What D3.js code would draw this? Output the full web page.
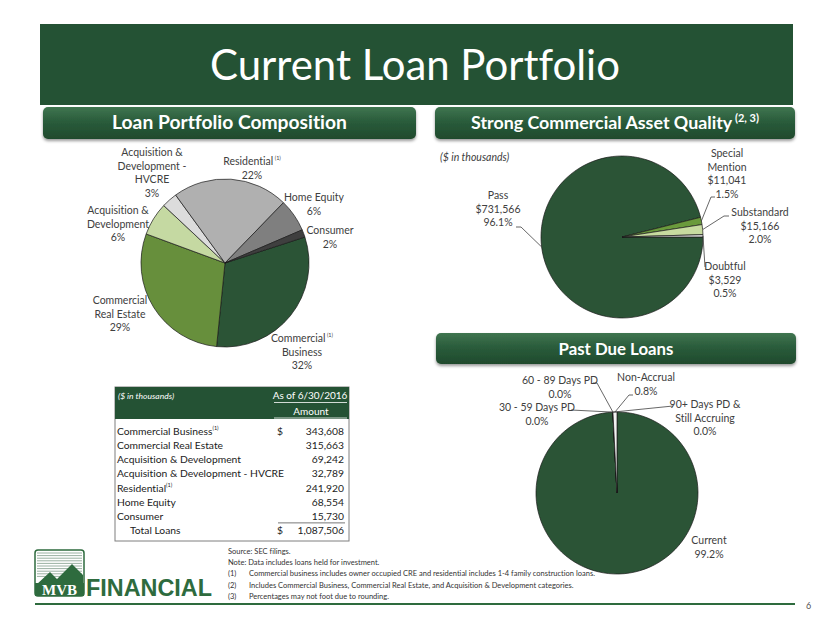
<!DOCTYPE html>
<html>
<head>
<meta charset="utf-8">
<script src="https://cdn.jsdelivr.net/npm/d3@7/dist/d3.min.js"></script>
<style>
  body { margin: 0; background: #fff; }
  svg { display: block; font-family: Lato, "Open Sans", sans-serif; font-variant-ligatures: none; }
</style>
</head>
<body>
<div id="chart"></div>
<script>
// loan portfolio composition ($ in thousands, as of 6/30/2016)
var loanCats = ["Commercial Business", "Commercial Real Estate", "Acquisition & Development",
  "Acquisition & Development - HVCRE", "Residential", "Home Equity", "Consumer"];
var loanVals = [343608, 315663, 69242, 32789, 241920, 68554, 15730];
var loanPcts = ["32%", "29%", "6%", "3%", "22%", "6%", "2%"];
var loanNotes = ["(1)", "", "", "", "(1)", "", ""];
var loanTotal = 1087506;

// commercial asset quality ($ in thousands)
var qualCats = ["Pass", "Special Mention", "Substandard", "Doubtful"];
var qualVals = [731566, 11041, 15166, 3529];
var qualPcts = ["96.1%", "1.5%", "2.0%", "0.5%"];

// past due loans (% of total)
var dueCats = ["Current", "30 - 59 Days PD", "60 - 89 Days PD", "90+ Days PD & Still Accruing", "Non-Accrual"];
var duePcts = [99.2, 0.0, 0.0, 0.0, 0.8];

var footnotes = [
  ["", "Source: SEC filings."],
  ["", "Note: Data includes loans held for investment."],
  ["(1)", "Commercial business includes owner occupied CRE and residential includes 1-4 family construction loans."],
  ["(2)", "Includes Commercial Business, Commercial Real Estate, and Acquisition & Development categories."],
  ["(3)", "Percentages may not foot due to rounding."]
];

var width = 830, height = 623;
var txt = "#404040";

var svg = d3.select("#chart").append("svg")
  .attr("width", width)
  .attr("height", height);

var defs = svg.append("defs");
var grad = defs.append("linearGradient").attr("id", "hdr").attr("x1", 0).attr("y1", 0).attr("x2", 0).attr("y2", 1);
grad.append("stop").attr("offset", "0%").attr("stop-color", "#3f7550");
grad.append("stop").attr("offset", "45%").attr("stop-color", "#2a5c3b");
grad.append("stop").attr("offset", "100%").attr("stop-color", "#1f4a2d");
var shadow = defs.append("filter").attr("id", "shd").attr("x", "-5%").attr("y", "-20%").attr("width", "110%").attr("height", "160%");
shadow.append("feDropShadow").attr("dx", 0).attr("dy", 2).attr("stdDeviation", 1.5).attr("flood-color", "#000").attr("flood-opacity", 0.4);

// scale font so the text takes a given width
function fit(sel, w) {
  var fs = parseFloat(sel.attr("font-size"));
  var len = sel.node().getComputedTextLength();
  sel.attr("font-size", fs * w / len);
}

// title banner
svg.append("rect").attr("x", 40).attr("y", 24).attr("width", 753).attr("height", 81).attr("fill", "#245234");
var title = svg.append("text").attr("x", 415).attr("y", 80).attr("text-anchor", "middle")
  .attr("fill", "#fff").attr("font-size", 48).text("Current Loan Portfolio");
fit(title, 410);

// section headers
function header(x, y, w, h, label, sup, tw) {
  svg.append("rect").attr("x", x).attr("y", y).attr("width", w).attr("height", h)
    .attr("rx", 5).attr("fill", "url(#hdr)").attr("filter", "url(#shd)");
  var t = svg.append("text").attr("x", x + w / 2).attr("y", y + h / 2 + 6).attr("text-anchor", "middle")
    .attr("fill", "#fff").attr("font-weight", "bold").attr("font-size", 18);
  t.append("tspan").text(label);
  if (sup) t.append("tspan").attr("font-size", 11).attr("dy", -7).text(" " + sup);
  fit(t, tw);
}
header(43, 107, 373, 32, "Loan Portfolio Composition", null, 235);
header(435, 107, 360, 32, "Strong Commercial Asset Quality", "(2, 3)", 288);
header(436, 333, 360, 31, "Past Due Loans", null, 115);

// generic pie
function drawPie(cx, cy, r, vals, colors, startDeg) {
  var pie = d3.pie().sort(null).value(function (d) { return d; })
    .startAngle(startDeg * Math.PI / 180).endAngle((startDeg + 360) * Math.PI / 180);
  var arcs = pie(vals);
  var arc = d3.arc().innerRadius(0).outerRadius(r);
  var g = svg.append("g").attr("transform", "translate(" + cx + "," + cy + ")");
  g.selectAll("path").data(arcs).enter().append("path")
    .attr("d", arc)
    .attr("fill", function (d, i) { return colors[i]; })
    .attr("stroke", "#1a1a1a").attr("stroke-width", 0.7).attr("stroke-linejoin", "round");
  // point on the rim at the middle of each slice
  arcs.forEach(function (d) {
    var a = (d.startAngle + d.endAngle) / 2;
    d.rim = [cx + r * Math.sin(a), cy - r * Math.cos(a)];
  });
  return arcs;
}

function label(x, y, lines, size, lh) {
  var t = svg.append("text").attr("text-anchor", "middle").attr("fill", txt).attr("font-size", size || 10.5);
  lines.forEach(function (l, i) {
    var ts = t.append("tspan").attr("x", x).attr("y", y + i * (lh || 13.5));
    if (typeof l === "string") ts.text(l);
    else {
      ts.text(l[0]);
      t.append("tspan").attr("font-size", 5.5).attr("dy", -5).text(" " + l[1]);
    }
  });
  return t;
}

function leader(pts) {
  svg.append("path").attr("d", d3.line()(pts)).attr("fill", "none")
    .attr("stroke", txt).attr("stroke-width", 0.8);
}

// ---- left pie: loan composition
var lcx = 225, lcy = 263;
drawPie(lcx, lcy, 84, loanVals,
  ["#2b5436", "#678f3c", "#c5d9a2", "#dcdcdc", "#b0b0b0", "#7f7f7f", "#3f3f3f"], 72);

var loanLabelPos = [[77, 79], [-105, 41], [-107, -49], [-73, -107], [27, -98], [89, -62], [105, -29]];
label(lcx + loanLabelPos[0][0], lcy + loanLabelPos[0][1], [["Commercial", loanNotes[0]], "Business", loanPcts[0]]);
label(lcx + loanLabelPos[1][0], lcy + loanLabelPos[1][1], ["Commercial", "Real Estate", loanPcts[1]]);
label(lcx + loanLabelPos[2][0], lcy + loanLabelPos[2][1], ["Acquisition &", "Development", loanPcts[2]]);
label(lcx + loanLabelPos[3][0], lcy + loanLabelPos[3][1], ["Acquisition &", "Development -", "HVCRE", loanPcts[3]]);
label(lcx + loanLabelPos[4][0], lcy + loanLabelPos[4][1], [["Residential", loanNotes[4]], loanPcts[4]]);
label(lcx + loanLabelPos[5][0], lcy + loanLabelPos[5][1], ["Home Equity", loanPcts[5]]);
label(lcx + loanLabelPos[6][0], lcy + loanLabelPos[6][1], ["Consumer", loanPcts[6]]);

// ---- top right pie: asset quality
var qcx = 622, qcy = 237;
svg.append("text").attr("x", 440).attr("y", 161).attr("font-size", 10.5).attr("font-style", "italic")
  .attr("fill", txt).text("($ in thousands)");
var qualArcs = drawPie(qcx, qcy, 81, qualVals, ["#2b5436", "#6a9a3c", "#c7dba0", "#e4e4e4"], 90);
var fmt = d3.format(",");
label(498, 199, [qualCats[0], "$" + fmt(qualVals[0]), qualPcts[0]]);
leader([qualArcs[0].rim, [521, 227], [516, 227]]);
label(727, 157, ["Special", "Mention", "$" + fmt(qualVals[1]), qualPcts[1]]);
leader([qualArcs[1].rim, [711, 197], [715, 197]]);
label(760, 216, [qualCats[2], "$" + fmt(qualVals[2]), qualPcts[2]]);
leader([qualArcs[2].rim, [724, 216], [729, 216]]);
label(725, 270, [qualCats[3], "$" + fmt(qualVals[3]), qualPcts[3]]);
leader([qualArcs[3].rim, [705, 267]]);

// ---- bottom right pie: past due
var dcx = 617, dcy = 493;
var dueArcs = drawPie(dcx, dcy, 81, duePcts, ["#2b5436", "#5a8a3a", "#9bbb6a", "#c7dba0", "#f2f2f2"], 0);
var pf = d3.format(".1f");
label(709, 544, [dueCats[0], pf(duePcts[0]) + "%"]);
label(537, 411, [dueCats[1], pf(duePcts[1]) + "%"]);
leader([dueArcs[1].rim, [571, 410]]);
label(560, 384, [dueCats[2], pf(duePcts[2]) + "%"]);
leader([dueArcs[2].rim, [597, 383], [593, 383]]);
label(705, 408, ["90+ Days PD &", "Still Accruing", pf(duePcts[3]) + "%"]);
leader([dueArcs[3].rim, [673, 406]]);
label(646, 381, [dueCats[4], pf(duePcts[4]) + "%"]);
leader([dueArcs[4].rim, [629, 395], [633, 395]]);

// ---- table
var tx = 115, ty = 387, tw = 234, th = 154;
svg.append("rect").attr("x", tx).attr("y", ty).attr("width", tw).attr("height", th)
  .attr("fill", "#fff").attr("stroke", "#7f7f7f").attr("stroke-width", 1);
svg.append("rect").attr("x", tx).attr("y", ty).attr("width", tw).attr("height", 32).attr("fill", "#245234");
svg.append("text").attr("x", tx + 3).attr("y", ty + 12).attr("font-size", 8.5).attr("font-style", "italic")
  .attr("fill", "#fff").text("($ in thousands)");
svg.append("text").attr("x", 310).attr("y", ty + 12).attr("font-size", 10).attr("text-anchor", "middle")
  .attr("fill", "#fff").text("As of 6/30/2016");
svg.append("line").attr("x1", 274).attr("x2", 347).attr("y1", ty + 15.5).attr("y2", ty + 15.5).attr("stroke", "#fff").attr("stroke-width", 0.8);
svg.append("text").attr("x", 311).attr("y", ty + 28).attr("font-size", 10).attr("text-anchor", "middle")
  .attr("fill", "#fff").text("Amount");
svg.append("line").attr("x1", 274).attr("x2", 347).attr("y1", ty + 31).attr("y2", ty + 31).attr("stroke", "#fff").attr("stroke-width", 0.8);

var rowY = d3.scaleBand().domain(d3.range(loanCats.length + 1)).range([ty + 38, ty + 151]);
var rows = svg.selectAll("g.row").data(loanCats).enter().append("g").attr("class", "row")
  .attr("transform", function (d, i) { return "translate(0," + (rowY(i) + 10) + ")"; });
rows.append("text").attr("x", tx + 2).attr("font-size", 10.3).attr("fill", "#222")
  .each(function (d, i) {
    var t = d3.select(this);
    t.append("tspan").text(d);
    if (loanNotes[i]) t.append("tspan").attr("font-size", 5.5).attr("dy", -5).text(loanNotes[i]);
  });
rows.append("text").attr("x", 344).attr("text-anchor", "end").attr("font-size", 10.3).attr("fill", "#222")
  .text(function (d, i) { return fmt(loanVals[i]); });
rows.filter(function (d, i) { return i === 0; }).append("text").attr("x", 277).attr("font-size", 10.3)
  .attr("fill", "#222").text("$");
var totY = rowY(loanCats.length) + 10;
svg.append("line").attr("x1", 278).attr("x2", 345).attr("y1", totY - 11).attr("y2", totY - 11)
  .attr("stroke", "#555").attr("stroke-width", 0.8);
svg.append("text").attr("x", tx + 15).attr("y", totY).attr("font-size", 10.3).attr("fill", "#222").text("Total Loans");
svg.append("text").attr("x", 277).attr("y", totY).attr("font-size", 10.3).attr("fill", "#222").text("$");
svg.append("text").attr("x", 344).attr("y", totY).attr("text-anchor", "end").attr("font-size", 10.3)
  .attr("fill", "#222").text(fmt(loanTotal));

// ---- footnotes
var fn = svg.selectAll("g.fn").data(footnotes).enter().append("g")
  .attr("transform", function (d, i) { return "translate(0," + (554 + i * 11.2) + ")"; });
fn.append("text").attr("x", 228).attr("font-size", 7.5).attr("fill", "#333").text(function (d) { return d[0]; });
fn.append("text").attr("x", function (d) { return d[0] ? 249 : 228; }).attr("font-size", 7.5).attr("fill", "#333")
  .text(function (d) { return d[1]; });

// ---- logo & bottom rule
var lg = svg.append("g");
lg.append("rect").attr("x", 35).attr("y", 550).attr("width", 49).attr("height", 46).attr("rx", 3)
  .attr("fill", "#fff").attr("stroke", "#2e6b3e").attr("stroke-width", 1.5);
d3.range(553, 578, 2.6).forEach(function (y) {
  lg.append("line").attr("x1", 37).attr("x2", 82).attr("y1", y).attr("y2", y).attr("stroke", "#8fa897").attr("stroke-width", 0.9);
});
lg.append("path").attr("d", "M36,585 L50,572 L57,579 L72,564 L83,575 L83,585 Z").attr("fill", "#2e6b3e");
lg.append("rect").attr("x", 35).attr("y", 583).attr("width", 49).attr("height", 13).attr("fill", "#2e6b3e");
lg.append("text").attr("x", 59.5).attr("y", 595).attr("text-anchor", "middle").attr("font-family", "'Liberation Serif', serif")
  .attr("font-weight", "bold").attr("font-size", 15).attr("fill", "#fff").text("MVB");
var fin = lg.append("text").attr("x", 86).attr("y", 596).attr("font-family", "'Liberation Sans', Arial, sans-serif")
  .attr("font-weight", "bold").attr("font-size", 20).attr("fill", "#2e6b3e").text("FINANCIAL");
fit(fin, 126);
svg.append("line").attr("x1", 35).attr("x2", 795).attr("y1", 604).attr("y2", 604).attr("stroke", "#2e6b3e").attr("stroke-width", 2);
svg.append("text").attr("x", 806).attr("y", 609).attr("font-size", 9).attr("fill", "#555").text("6");
</script>
</body>
</html>
